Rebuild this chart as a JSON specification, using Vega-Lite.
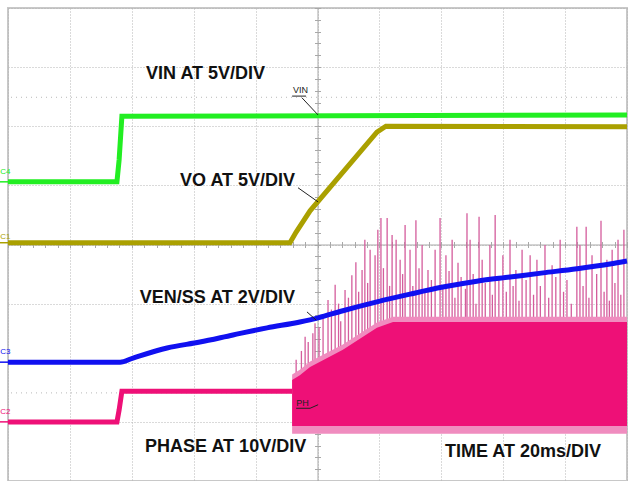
{
  "$schema": "https://vega.github.io/schema/vega-lite/v6.json",
  "width": 619,
  "height": 473,
  "autosize": {"type": "none"},
  "padding": {"left": 8, "top": 8, "right": 2, "bottom": 0},
  "background": "white",
  "config": {"view": {"stroke": "#c8c8c8", "strokeWidth": 2}},
  "resolve": {"axis": {"x": "independent", "y": "independent"}},
  "datasets": {
    "cursors": [{"v": 6.49}, {"v": 1.49}],
    "vin": [{"t": 0, "v": 5.06}, {"t": 35.2, "v": 5.06}, {"t": 35.9, "v": 5.43}, {"t": 36.8, "v": 6.17}, {"t": 200, "v": 6.19}],
    "vo": [{"t": 0, "v": 4.03}, {"t": 91.1, "v": 4.03}, {"t": 93.1, "v": 4.21}, {"t": 97.6, "v": 4.57}, {"t": 119.2, "v": 5.9}, {"t": 122.1, "v": 6.0}, {"t": 200, "v": 5.99}],
    "ph": [{"t": 0, "v": 1.0}, {"t": 35.2, "v": 1.0}, {"t": 35.9, "v": 1.2}, {"t": 36.8, "v": 1.52}, {"t": 91.8, "v": 1.52}],
    "band": [
      {"t": 91.8, "top": 1.71, "bot": 0.93},
      {"t": 94.3, "top": 1.79, "bot": 0.93},
      {"t": 97.6, "top": 1.93, "bot": 0.93},
      {"t": 108.2, "top": 2.22, "bot": 0.93},
      {"t": 119.2, "top": 2.59, "bot": 0.93},
      {"t": 124.4, "top": 2.69, "bot": 0.93},
      {"t": 200, "top": 2.69, "bot": 0.93}
    ],
    "fuzz": [
      {"t": 91.8, "top": 1.8, "bot": 0.8},
      {"t": 94.3, "top": 1.88, "bot": 0.8},
      {"t": 97.6, "top": 2.02, "bot": 0.8},
      {"t": 108.2, "top": 2.31, "bot": 0.8},
      {"t": 119.2, "top": 2.68, "bot": 0.8},
      {"t": 124.4, "top": 2.78, "bot": 0.8},
      {"t": 200, "top": 2.78, "bot": 0.8}
    ],
    "spikes": [
      {"t": 93.1, "top": 2.05}, {"t": 96.0, "top": 2.44}, {"t": 99.2, "top": 2.67}, {"t": 103.4, "top": 3.06},
      {"t": 105.7, "top": 3.32}, {"t": 108.9, "top": 3.23}, {"t": 111.1, "top": 3.48}, {"t": 112.4, "top": 3.7},
      {"t": 114.4, "top": 3.57}, {"t": 115.3, "top": 4.08}, {"t": 117.0, "top": 3.91}, {"t": 118.6, "top": 3.82},
      {"t": 119.5, "top": 4.25}, {"t": 120.5, "top": 4.45}, {"t": 122.5, "top": 4.45}, {"t": 124.1, "top": 4.16},
      {"t": 125.4, "top": 4.08}, {"t": 126.7, "top": 3.74}, {"t": 128.3, "top": 4.33}, {"t": 129.9, "top": 3.91},
      {"t": 131.8, "top": 4.41}, {"t": 133.8, "top": 3.99}, {"t": 135.7, "top": 3.57}, {"t": 138.0, "top": 3.91},
      {"t": 139.6, "top": 4.45}, {"t": 141.5, "top": 3.82}, {"t": 143.5, "top": 4.08}, {"t": 145.4, "top": 3.69},
      {"t": 148.3, "top": 4.53}, {"t": 149.3, "top": 4.08}, {"t": 152.2, "top": 4.47}, {"t": 153.2, "top": 3.74},
      {"t": 155.7, "top": 3.99}, {"t": 157.4, "top": 4.5}, {"t": 159.9, "top": 3.82}, {"t": 162.2, "top": 4.08},
      {"t": 164.1, "top": 3.57}, {"t": 166.1, "top": 3.91}, {"t": 168.7, "top": 3.82}, {"t": 170.9, "top": 3.74},
      {"t": 173.5, "top": 3.99}, {"t": 175.8, "top": 3.65}, {"t": 178.4, "top": 4.08}, {"t": 180.6, "top": 3.4},
      {"t": 183.8, "top": 4.3}, {"t": 184.8, "top": 3.99}, {"t": 186.8, "top": 4.3}, {"t": 188.7, "top": 3.82},
      {"t": 191.6, "top": 4.4}, {"t": 193.5, "top": 3.74}, {"t": 195.2, "top": 3.91}, {"t": 197.1, "top": 4.08},
      {"t": 199.0, "top": 4.25},
      {"t": 94.8, "top": 2.2}, {"t": 97.0, "top": 2.35}, {"t": 98.5, "top": 2.5}, {"t": 100.5, "top": 2.6},
      {"t": 101.8, "top": 2.75}, {"t": 104.5, "top": 2.9}, {"t": 106.8, "top": 3.0}, {"t": 107.5, "top": 2.7},
      {"t": 110.0, "top": 3.1}, {"t": 113.3, "top": 3.2}, {"t": 116.2, "top": 3.35}, {"t": 121.3, "top": 3.6},
      {"t": 123.3, "top": 3.3}, {"t": 127.5, "top": 3.5}, {"t": 130.8, "top": 3.3}, {"t": 132.8, "top": 3.6},
      {"t": 134.7, "top": 3.2}, {"t": 136.8, "top": 3.4}, {"t": 140.5, "top": 3.3}, {"t": 142.5, "top": 3.55},
      {"t": 144.4, "top": 3.1}, {"t": 146.4, "top": 3.45}, {"t": 147.8, "top": 3.25}, {"t": 150.3, "top": 3.5},
      {"t": 151.2, "top": 3.0}, {"t": 154.2, "top": 3.35}, {"t": 156.5, "top": 3.15}, {"t": 158.6, "top": 3.45},
      {"t": 161.0, "top": 3.2}, {"t": 163.2, "top": 3.3}, {"t": 165.1, "top": 3.05}, {"t": 167.4, "top": 3.4},
      {"t": 169.8, "top": 3.15}, {"t": 172.0, "top": 3.3}, {"t": 174.7, "top": 3.1}, {"t": 177.0, "top": 3.45},
      {"t": 179.5, "top": 3.2}, {"t": 182.0, "top": 3.0}, {"t": 185.8, "top": 3.3}, {"t": 187.7, "top": 3.1},
      {"t": 190.2, "top": 3.5}, {"t": 192.6, "top": 3.2}, {"t": 194.3, "top": 3.05}, {"t": 196.1, "top": 3.35},
      {"t": 198.0, "top": 3.15}
    ],
    "ven": [
      {"t": 0, "v": 2.01}, {"t": 36.2, "v": 2.01}, {"t": 40.4, "v": 2.08}, {"t": 51.4, "v": 2.25},
      {"t": 62.0, "v": 2.35}, {"t": 72.7, "v": 2.47}, {"t": 83.7, "v": 2.59}, {"t": 94.3, "v": 2.69},
      {"t": 100.2, "v": 2.76}, {"t": 108.2, "v": 2.88}, {"t": 119.2, "v": 3.03}, {"t": 129.9, "v": 3.16},
      {"t": 140.5, "v": 3.28}, {"t": 151.5, "v": 3.38}, {"t": 162.2, "v": 3.45}, {"t": 172.9, "v": 3.52},
      {"t": 183.8, "v": 3.59}, {"t": 194.5, "v": 3.67}, {"t": 200, "v": 3.72}
    ],
    "leaders": [
      {"t": 95.0, "v": 6.48, "t2": 100.2, "v2": 6.19},
      {"t": 91.8, "v": 6.51, "t2": 96.3, "v2": 6.51},
      {"t": 93.7, "v": 4.96, "t2": 100.2, "v2": 4.72},
      {"t": 96.6, "v": 2.86, "t2": 99.6, "v2": 2.72},
      {"t": 93.1, "v": 1.23, "t2": 97.6, "v2": 1.23},
      {"t": 97.6, "v": 1.23, "t2": 100.2, "v2": 1.29}
    ],
    "small": [
      {"t": 92.1, "v": 6.56, "text": "VIN"},
      {"t": 93.1, "v": 1.27, "text": "PH"}
    ],
    "labels": [
      {"t": 44.6, "v": 6.8, "text": "VIN AT 5V/DIV"},
      {"t": 55.6, "v": 4.99, "text": "VO AT 5V/DIV"},
      {"t": 42.6, "v": 3.01, "text": "VEN/SS AT 2V/DIV"},
      {"t": 44.3, "v": 0.49, "text": "PHASE AT 10V/DIV"},
      {"t": 141.2, "v": 0.41, "text": "TIME AT 20ms/DIV"}
    ],
    "chan": [
      {"t": -2.5, "v": 5.2, "ch": "C4", "lv": 5.06},
      {"t": -2.5, "v": 4.1, "ch": "C1", "lv": 4.03},
      {"t": -2.5, "v": 2.15, "ch": "C3", "lv": 2.01},
      {"t": -2.5, "v": 1.14, "ch": "C2", "lv": 1.0}
    ]
  },
  "layer": [
    {
      "data": {"name": "cursors"},
      "mark": {"type": "rule", "color": "#b8b8b8", "strokeDash": [1, 4], "strokeWidth": 1},
      "encoding": {
        "y": {"field": "v", "type": "quantitative", "scale": {"domain": [0, 8], "nice": false, "zero": false},
          "axis": {"orient": "left", "values": [0, 1, 2, 3, 4, 5, 6, 7, 8], "grid": true, "gridColor": "#b4b4b4", "gridDash": [1, 2], "gridWidth": 1, "domain": false, "ticks": false, "labels": false, "title": null}}
      }
    },
    {
      "data": {"name": "vin"},
      "mark": {"type": "line", "color": "#22ee22", "strokeWidth": 5},
      "encoding": {
        "x": {"field": "t", "type": "quantitative", "scale": {"domain": [0, 200], "nice": false, "zero": false},
          "axis": {"orient": "bottom", "values": [0, 20, 40, 60, 80, 100, 120, 140, 160, 180, 200], "grid": true, "gridColor": "#b4b4b4", "gridDash": [1, 2], "gridWidth": 1, "domain": false, "ticks": false, "labels": false, "title": null}},
        "y": {"field": "v", "type": "quantitative", "scale": {"domain": [0, 8], "nice": false, "zero": false},
          "axis": {"orient": "left", "offset": -309.5, "values": [0, 0.2, 0.4, 0.6, 0.8, 1, 1.2, 1.4, 1.6, 1.8, 2, 2.2, 2.4, 2.6, 2.8, 3, 3.2, 3.4, 3.6, 3.8, 4, 4.2, 4.4, 4.6, 4.8, 5, 5.2, 5.4, 5.6, 5.8, 6, 6.2, 6.4, 6.6, 6.8, 7, 7.2, 7.4, 7.6, 7.8, 8], "grid": false, "domain": true, "domainColor": "#a8a8a8", "domainWidth": 1, "ticks": true, "tickColor": "#a8a8a8", "tickSize": 3, "labels": false, "title": null}}
      }
    },
    {
      "data": {"name": "vo"},
      "mark": {"type": "line", "color": "#aaa000", "strokeWidth": 5},
      "encoding": {
        "x": {"field": "t", "type": "quantitative", "scale": {"domain": [0, 200], "nice": false, "zero": false},
          "axis": {"orient": "bottom", "offset": -236.5, "values": [0, 4, 8, 12, 16, 20, 24, 28, 32, 36, 40, 44, 48, 52, 56, 60, 64, 68, 72, 76, 80, 84, 88, 92, 96, 100, 104, 108, 112, 116, 120, 124, 128, 132, 136, 140, 144, 148, 152, 156, 160, 164, 168, 172, 176, 180, 184, 188, 192, 196, 200], "grid": false, "domain": true, "domainColor": "#a8a8a8", "domainWidth": 1, "ticks": true, "tickColor": "#a8a8a8", "tickSize": 3, "labels": false, "title": null}},
        "y": {"field": "v", "type": "quantitative", "scale": {"domain": [0, 8], "nice": false, "zero": false},
          "axis": {"orient": "right", "offset": -309.5, "values": [0, 0.2, 0.4, 0.6, 0.8, 1, 1.2, 1.4, 1.6, 1.8, 2, 2.2, 2.4, 2.6, 2.8, 3, 3.2, 3.4, 3.6, 3.8, 4, 4.2, 4.4, 4.6, 4.8, 5, 5.2, 5.4, 5.6, 5.8, 6, 6.2, 6.4, 6.6, 6.8, 7, 7.2, 7.4, 7.6, 7.8, 8], "grid": false, "domain": false, "ticks": true, "tickColor": "#a8a8a8", "tickSize": 3, "labels": false, "title": null}}
      }
    },
    {
      "data": {"name": "ph"},
      "mark": {"type": "line", "color": "#ee1077", "strokeWidth": 5},
      "encoding": {
        "x": {"field": "t", "type": "quantitative", "scale": {"domain": [0, 200], "nice": false, "zero": false},
          "axis": {"orient": "top", "offset": -236.5, "values": [0, 4, 8, 12, 16, 20, 24, 28, 32, 36, 40, 44, 48, 52, 56, 60, 64, 68, 72, 76, 80, 84, 88, 92, 96, 100, 104, 108, 112, 116, 120, 124, 128, 132, 136, 140, 144, 148, 152, 156, 160, 164, 168, 172, 176, 180, 184, 188, 192, 196, 200], "grid": false, "domain": false, "ticks": true, "tickColor": "#a8a8a8", "tickSize": 3, "labels": false, "title": null}},
        "y": {"field": "v", "type": "quantitative", "scale": {"domain": [0, 8], "nice": false, "zero": false}, "axis": null}
      }
    },
    {
      "data": {"name": "spikes"},
      "mark": {"type": "rule", "color": "#d45c9c", "strokeWidth": 1.3},
      "encoding": {
        "x": {"field": "t", "type": "quantitative", "scale": {"domain": [0, 200], "nice": false, "zero": false}, "axis": null},
        "y": {"field": "top", "type": "quantitative", "scale": {"domain": [0, 8], "nice": false, "zero": false}, "axis": null},
        "y2": {"datum": 1.6}
      }
    },
    {
      "data": {"name": "fuzz"},
      "mark": {"type": "area", "color": "#f08cbf", "opacity": 1},
      "encoding": {
        "x": {"field": "t", "type": "quantitative", "scale": {"domain": [0, 200], "nice": false, "zero": false}, "axis": null},
        "y": {"field": "top", "type": "quantitative", "scale": {"domain": [0, 8], "nice": false, "zero": false}, "axis": null},
        "y2": {"field": "bot"}
      }
    },
    {
      "data": {"name": "band"},
      "mark": {"type": "area", "color": "#ee1077", "opacity": 1},
      "encoding": {
        "x": {"field": "t", "type": "quantitative", "scale": {"domain": [0, 200], "nice": false, "zero": false}, "axis": null},
        "y": {"field": "top", "type": "quantitative", "scale": {"domain": [0, 8], "nice": false, "zero": false}, "axis": null},
        "y2": {"field": "bot"}
      }
    },
    {
      "data": {"name": "ven"},
      "mark": {"type": "line", "color": "#1010f0", "strokeWidth": 5, "interpolate": "monotone"},
      "encoding": {
        "x": {"field": "t", "type": "quantitative", "scale": {"domain": [0, 200], "nice": false, "zero": false}, "axis": null},
        "y": {"field": "v", "type": "quantitative", "scale": {"domain": [0, 8], "nice": false, "zero": false}, "axis": null}
      }
    },
    {
      "data": {"name": "leaders"},
      "mark": {"type": "rule", "color": "#222222", "strokeWidth": 1},
      "encoding": {
        "x": {"field": "t", "type": "quantitative", "scale": {"domain": [0, 200], "nice": false, "zero": false}, "axis": null},
        "y": {"field": "v", "type": "quantitative", "scale": {"domain": [0, 8], "nice": false, "zero": false}, "axis": null},
        "x2": {"field": "t2"},
        "y2": {"field": "v2"}
      }
    },
    {
      "data": {"name": "small"},
      "mark": {"type": "text", "font": "Liberation Sans", "fontSize": 9, "color": "#222222", "align": "left", "baseline": "alphabetic"},
      "encoding": {
        "x": {"field": "t", "type": "quantitative", "scale": {"domain": [0, 200], "nice": false, "zero": false}, "axis": null},
        "y": {"field": "v", "type": "quantitative", "scale": {"domain": [0, 8], "nice": false, "zero": false}, "axis": null},
        "text": {"field": "text"}
      }
    },
    {
      "data": {"name": "labels"},
      "mark": {"type": "text", "font": "Liberation Sans", "fontWeight": "bold", "fontSize": 18, "color": "#111111", "align": "left", "baseline": "alphabetic"},
      "encoding": {
        "x": {"field": "t", "type": "quantitative", "scale": {"domain": [0, 200], "nice": false, "zero": false}, "axis": null},
        "y": {"field": "v", "type": "quantitative", "scale": {"domain": [0, 8], "nice": false, "zero": false}, "axis": null},
        "text": {"field": "text"}
      }
    },
    {
      "data": {"name": "chan"},
      "mark": {"type": "text", "font": "Liberation Sans", "fontSize": 8, "align": "left", "baseline": "alphabetic"},
      "encoding": {
        "x": {"field": "t", "type": "quantitative", "scale": {"domain": [0, 200], "nice": false, "zero": false}, "axis": null},
        "y": {"field": "v", "type": "quantitative", "scale": {"domain": [0, 8], "nice": false, "zero": false}, "axis": null},
        "text": {"field": "ch"},
        "color": {"field": "ch", "type": "nominal", "scale": {"domain": ["C4", "C1", "C3", "C2"], "range": ["#22ee22", "#aaa000", "#1010f0", "#ee1077"]}, "legend": null}
      }
    },
    {
      "data": {"name": "chan"},
      "mark": {"type": "rule", "strokeWidth": 1.5},
      "encoding": {
        "x": {"datum": -2.6, "type": "quantitative", "scale": {"domain": [0, 200], "nice": false, "zero": false}, "axis": null},
        "x2": {"datum": 0},
        "y": {"field": "lv", "type": "quantitative", "scale": {"domain": [0, 8], "nice": false, "zero": false}, "axis": null},
        "color": {"field": "ch", "type": "nominal", "scale": {"domain": ["C4", "C1", "C3", "C2"], "range": ["#22ee22", "#aaa000", "#1010f0", "#ee1077"]}, "legend": null}
      }
    }
  ]
}
